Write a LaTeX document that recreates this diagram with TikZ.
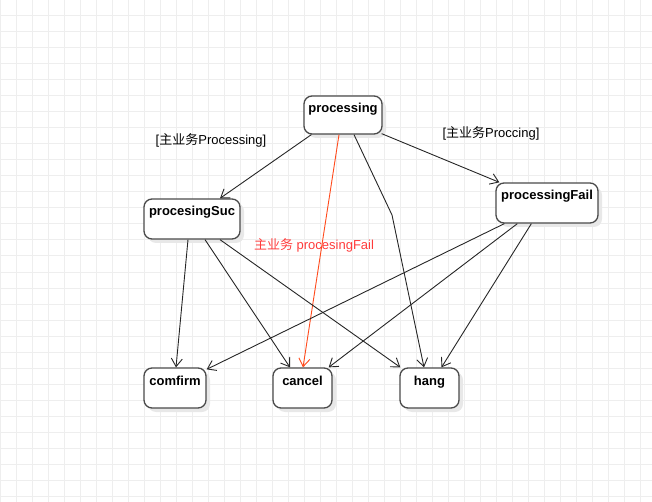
\documentclass[tikz,border=0pt]{standalone}
\usepackage{fontspec}
\setmainfont{Liberation Sans}
\newfontfamily\cjk{Noto Sans CJK SC}
\usepackage{xcolor}
\usepackage{tikz}
\usetikzlibrary{arrows.meta, calc, shadows}

\definecolor{gridgray}{HTML}{EEEEEE}
\definecolor{boxline}{HTML}{4A4A4A}
\definecolor{failred}{HTML}{FF4A1C}
\definecolor{guardred}{HTML}{FF3B3B}

\begin{document}
\begin{tikzpicture}[x=1pt, y=-1pt,
  statebox/.style={
    rectangle, rounded corners=8pt,
    draw=boxline, fill=white, line width=1.3pt,
    font=\fontsize{13}{15}\selectfont\bfseries,
    inner xsep=0pt, inner ysep=4pt,
    text height=13pt, text depth=19pt, align=center,
    drop shadow={shadow xshift=4pt, shadow yshift=-4pt,
      fill=black!9, opacity=1}},
  flow/.style={-{Straight Barb[length=8pt, width=11pt]},
    line width=0.9pt, draw=black!85},
  flowred/.style={flow, draw=failred},
  guard/.style={font=\fontsize{13}{15}\selectfont, inner sep=0pt},
  guardtxt/.style={guard, text=guardred},
  gridline/.style={draw=gridgray, line width=1pt},
]

\useasboundingbox (0,0) rectangle (652,502);

%% ---- Background grid ----
\foreach \gx in {0,16,...,648}
  \draw[gridline] (\gx,0) -- (\gx,502);
\foreach \gy in {0,16,...,496}
  \draw[gridline] (0,\gy) -- (652,\gy);

%% ---- States ----
\node[statebox, minimum width=78pt, text depth=17pt]
  (processing) at (343,115) {processing};
\node[statebox, minimum width=96pt] (suc) at (192,219) {procesingSuc};
\node[statebox, minimum width=102pt] (fail) at (547,203) {processingFail};

\node[statebox, minimum width=62pt] (comfirm) at (175,388) {comfirm};
\node[statebox, minimum width=59pt] (cancel) at (302.5,388) {cancel};
\node[statebox, minimum width=59pt] (hang) at (429.5,388) {hang};

%% ---- Guards ----
\node[guard] (gsuc) at (211,140) {[{\cjk 主业务}Processing]};
\node[guard] (gfail) at (491,133) {[{\cjk 主业务}Proccing]};
\node[guardtxt] (gred) at (314,245) {{\cjk 主业务} procesingFail};

%% ---- Transitions from processing ----
\draw[flow] ($(processing.south west)+(8,0)$) -- ($(suc.north)+(28,0)$);
\draw[flow] ($(processing.south east)+(-1,-1)$) -- ($(fail.north west)+(4,0)$);
\draw[flowred] ($(processing.south)+(-4,0)$) -- ($(cancel.north)+(0.5,0)$);
\coordinate (bend) at (392,215);
\draw[flow] ($(processing.south)+(11,0)$) -- (bend) -- ($(hang.north)+(-5.5,0)$);

%% ---- Transitions from procesingSuc ----
\draw[flow] ($(suc.south)+(-4,0)$) -- ($(comfirm.north)+(1,0)$);
\draw[flow] ($(suc.south)+(13,0)$) -- ($(cancel.north)+(-12.5,0)$);
\draw[flow] ($(suc.south)+(28,0)$) -- ($(hang.north west)+(1,0)$);

%% ---- Transitions from processingFail ----
\draw[flow] ($(fail.south west)+(9,0)$) -- ($(comfirm.north east)+(0,2)$);
\draw[flow] ($(fail.south west)+(22,0)$) -- ($(cancel.north east)+(-4,0)$);
\draw[flow] ($(fail.south west)+(36,0)$) -- ($(hang.north)+(12,0)$);

\end{tikzpicture}
\end{document}
